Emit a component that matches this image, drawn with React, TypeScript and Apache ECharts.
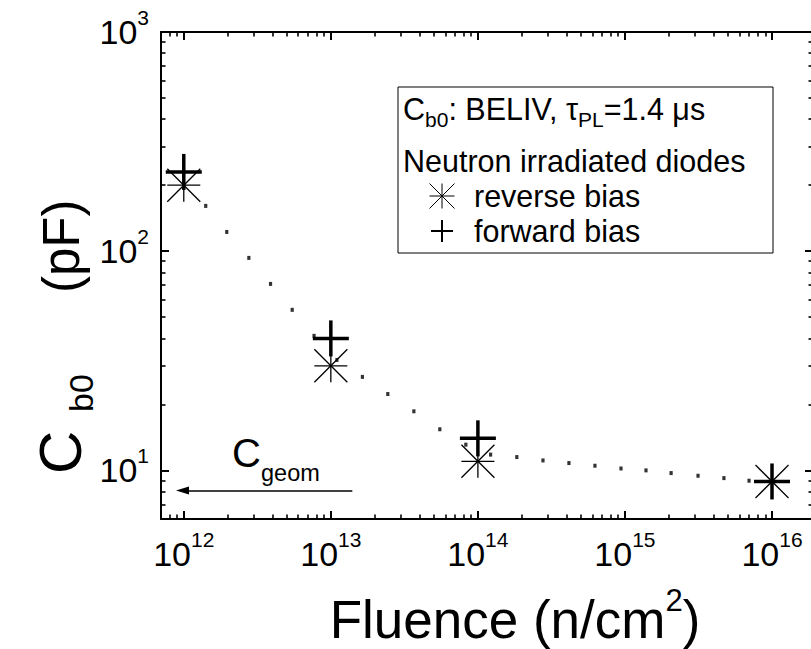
import React, { useEffect, useRef } from "react";
import * as echarts from "echarts";

const FONT = "'Liberation Sans', Arial, Helvetica, sans-serif";

// Measured points (fluence in n/cm^2, C_b0 in pF)
const fluence = [1e12, 1e13, 1e14, 1e16];
const reverseBias = [200, 30, 11, 8.9];
const forwardBias = [230, 40, 14, 8.9];

// Dotted guide curve, read dot by dot from the picture
const curveFluence = [
  1.41e12, 1.96e12, 2.77e12, 3.89e12, 5.46e12, 7.69e12, 1.1e13, 1.64e13,
  2.44e13, 3.67e13, 5.51e13, 8.28e13, 1.22e14, 1.84e14, 2.77e14, 4.16e14,
  6.25e14, 9.4e14, 1.39e15, 2.06e15, 3.14e15, 4.71e15, 6.98e15,
];
const curveCb0 = [
  160.9, 122.4, 93.2, 70.9, 54.0, 41.1, 31.9, 26.7, 22.3, 18.6, 15.4, 13.1,
  11.8, 11.5, 11.1, 10.8, 10.5, 10.2, 10.0, 9.72, 9.45, 9.22, 8.97,
];

// C_geom arrow (from, to) and its level
const geomArrowFluence = [1.4e13, 9.8e11];
const geomArrowCb0 = 8.1;

// Axis extents
const xRange = [7e11, 1.9e16];
const yRange = [6, 1000];

const powLabel = (v: number) => {
  const e = Math.log10(v);
  const r = Math.round(e);
  if (Math.abs(e - r) > 1e-6) return "";
  return `{b|10}{e|${r}}`;
};

const labelRich = {
  b: { fontSize: 34, fontFamily: FONT, color: "#000" },
  e: { fontSize: 21, fontFamily: FONT, color: "#000", verticalAlign: "top", height: 5 },
};

const axisBase = {
  type: "log",
  logBase: 10,
  axisLine: { show: true, onZero: false, lineStyle: { color: "#000", width: 2 } },
  axisTick: { show: true, inside: true, length: 8, lineStyle: { color: "#000", width: 2 } },
  minorTick: { show: true, splitNumber: 9, length: 4.5, lineStyle: { color: "#000", width: 1.6 } },
  splitLine: { show: false },
  minorSplitLine: { show: false },
};

const starItem = (params: any, api: any) => {
  const p = api.coord([api.value(0), api.value(1)]);
  const r = 16.5;
  const st = { stroke: "#000", lineWidth: 1.3 };
  return {
    type: "group",
    children: [
      { type: "line", shape: { x1: p[0] - r, y1: p[1], x2: p[0] + r, y2: p[1] }, style: st },
      { type: "line", shape: { x1: p[0], y1: p[1] - r, x2: p[0], y2: p[1] + r }, style: st },
      { type: "line", shape: { x1: p[0] - r, y1: p[1] - r, x2: p[0] + r, y2: p[1] + r }, style: st },
      { type: "line", shape: { x1: p[0] - r, y1: p[1] + r, x2: p[0] + r, y2: p[1] - r }, style: st },
    ],
  };
};

const plusItem = (params: any, api: any) => {
  const p = api.coord([api.value(0), api.value(1)]);
  const r = 18;
  const st = { stroke: "#000", lineWidth: 3.5 };
  return {
    type: "group",
    children: [
      { type: "line", shape: { x1: p[0] - r, y1: p[1], x2: p[0] + r, y2: p[1] }, style: st },
      { type: "line", shape: { x1: p[0], y1: p[1] - r, x2: p[0], y2: p[1] + r }, style: st },
    ],
  };
};

const txt = (text: string, x: number, y: number, size: number, extra: any = {}) => ({
  type: "text",
  x,
  y,
  ...extra,
  style: {
    text,
    x: 0,
    y: 0,
    fill: "#000",
    font: `${size}px ${FONT}`,
    textAlign: "left",
    textVerticalAlign: "middle",
    ...(extra.style || {}),
  },
});

export default function App() {
  const ref = useRef<HTMLDivElement>(null);

  useEffect(() => {
    document.body.style.margin = "0";
    if (!ref.current) return;
    const chart = echarts.init(ref.current, null, { renderer: "svg" });

    const legendSymbols: any[] = [];
    // asterisk
    const ax = 442, ay = 196, ar = 12.5;
    const sst = { stroke: "#000", lineWidth: 1 };
    legendSymbols.push(
      { type: "line", shape: { x1: ax - ar, y1: ay, x2: ax + ar, y2: ay }, style: sst },
      { type: "line", shape: { x1: ax, y1: ay - ar, x2: ax, y2: ay + ar }, style: sst },
      { type: "line", shape: { x1: ax - ar, y1: ay - ar, x2: ax + ar, y2: ay + ar }, style: sst },
      { type: "line", shape: { x1: ax - ar, y1: ay + ar, x2: ax + ar, y2: ay - ar }, style: sst }
    );
    const px = 442, py = 231, pr = 11;
    const pst = { stroke: "#000", lineWidth: 2 };
    legendSymbols.push(
      { type: "line", shape: { x1: px - pr, y1: py, x2: px + pr, y2: py }, style: pst },
      { type: "line", shape: { x1: px, y1: py - pr, x2: px, y2: py + pr }, style: pst }
    );

    const option: any = {
      animation: false,
      backgroundColor: "#fff",
      grid: { left: 161, top: 32, right: -2, bottom: 130, containLabel: false, outerBoundsMode: "none" },
      xAxis: [
        {
          ...axisBase,
          position: "bottom",
          min: xRange[0],
          max: xRange[1],
          axisLabel: { show: true, margin: 18, formatter: powLabel, rich: labelRich, color: "#000" },
        },
        {
          ...axisBase,
          position: "top",
          min: xRange[0],
          max: xRange[1],
          axisLabel: { show: false },
        },
      ],
      yAxis: [
        {
          ...axisBase,
          position: "left",
          min: yRange[0],
          max: yRange[1],
          axisLabel: { show: true, margin: 12, formatter: powLabel, rich: labelRich, color: "#000" },
        },
        {
          ...axisBase,
          position: "right",
          min: yRange[0],
          max: yRange[1],
          axisLabel: { show: false },
        },
      ],
      series: [
        {
          type: "scatter",
          name: "curve",
          xAxisIndex: 0,
          yAxisIndex: 0,
          symbol: "rect",
          symbolSize: [3.2, 4],
          itemStyle: { color: "#000" },
          data: curveFluence.map((x, i) => [x, curveCb0[i]]),
          markLine: {
            silent: true,
            symbol: ["none", "triangle"],
            symbolSize: [8, 13],
            label: { show: false },
            lineStyle: { color: "#000", width: 1.5, type: "solid" },
            data: [
              [
                { coord: [geomArrowFluence[0], geomArrowCb0] },
                { coord: [geomArrowFluence[1], geomArrowCb0] },
              ],
            ],
          },
        },
        {
          type: "custom",
          name: "forward bias",
          xAxisIndex: 0,
          yAxisIndex: 0,
          renderItem: plusItem,
          data: fluence.map((x, i) => [x, forwardBias[i]]),
        },
        {
          type: "custom",
          name: "reverse bias",
          xAxisIndex: 0,
          yAxisIndex: 0,
          renderItem: starItem,
          data: fluence.map((x, i) => [x, reverseBias[i]]),
        },
      ],
      graphic: [
        // legend box
        {
          type: "rect",
          shape: { x: 398, y: 87, width: 375, height: 166 },
          style: { fill: "#fff", stroke: "#000", lineWidth: 1 },
          z: 10,
        },
        {
          type: "text",
          x: 403,
          y: 109,
          z: 11,
          style: {
            text: "{m|C}{s|b0}{m|: BELIV, τ}{s|PL}{m|=1.4 μs}",
            textAlign: "left",
            textVerticalAlign: "middle",
            rich: {
              m: { fontSize: 30.5, fontFamily: FONT, color: "#000", lineHeight: 30 },
              s: { fontSize: 21, fontFamily: FONT, color: "#000", verticalAlign: "bottom", height: 9 },
            },
          },
        },
        { ...txt("Neutron irradiated diodes", 403, 161, 30.5), z: 11 },
        { ...txt("reverse bias", 474, 196, 30.5), z: 11 },
        { ...txt("forward bias", 474, 231, 30.5), z: 11 },
        ...legendSymbols.map((s) => ({ ...s, z: 11 })),
        // C_geom
        txt("C", 232, 453, 40),
        txt("geom", 261, 473, 23.5),
        // x title
        {
          type: "text",
          x: 515,
          y: 619,
          style: {
            text: "{t|Fluence (n/cm}{s|2}{t|)}",
            textAlign: "center",
            textVerticalAlign: "middle",
            rich: {
              t: { fontSize: 53, fontFamily: FONT, color: "#000", lineHeight: 53 },
              s: { fontSize: 31, fontFamily: FONT, color: "#000", verticalAlign: "top", height: 15 },
            },
          },
        },
        // y title (rotated)
        txt("C", 60, 474, 60, { rotation: Math.PI / 2 }),
        txt("b0", 81, 412, 34, { rotation: Math.PI / 2 }),
        txt("(pF)", 61, 293, 51, { rotation: Math.PI / 2 }),
      ],
    };

    chart.setOption(option);
    return () => chart.dispose();
  }, []);

  return <div ref={ref} style={{ width: 811, height: 649 }} />;
}
